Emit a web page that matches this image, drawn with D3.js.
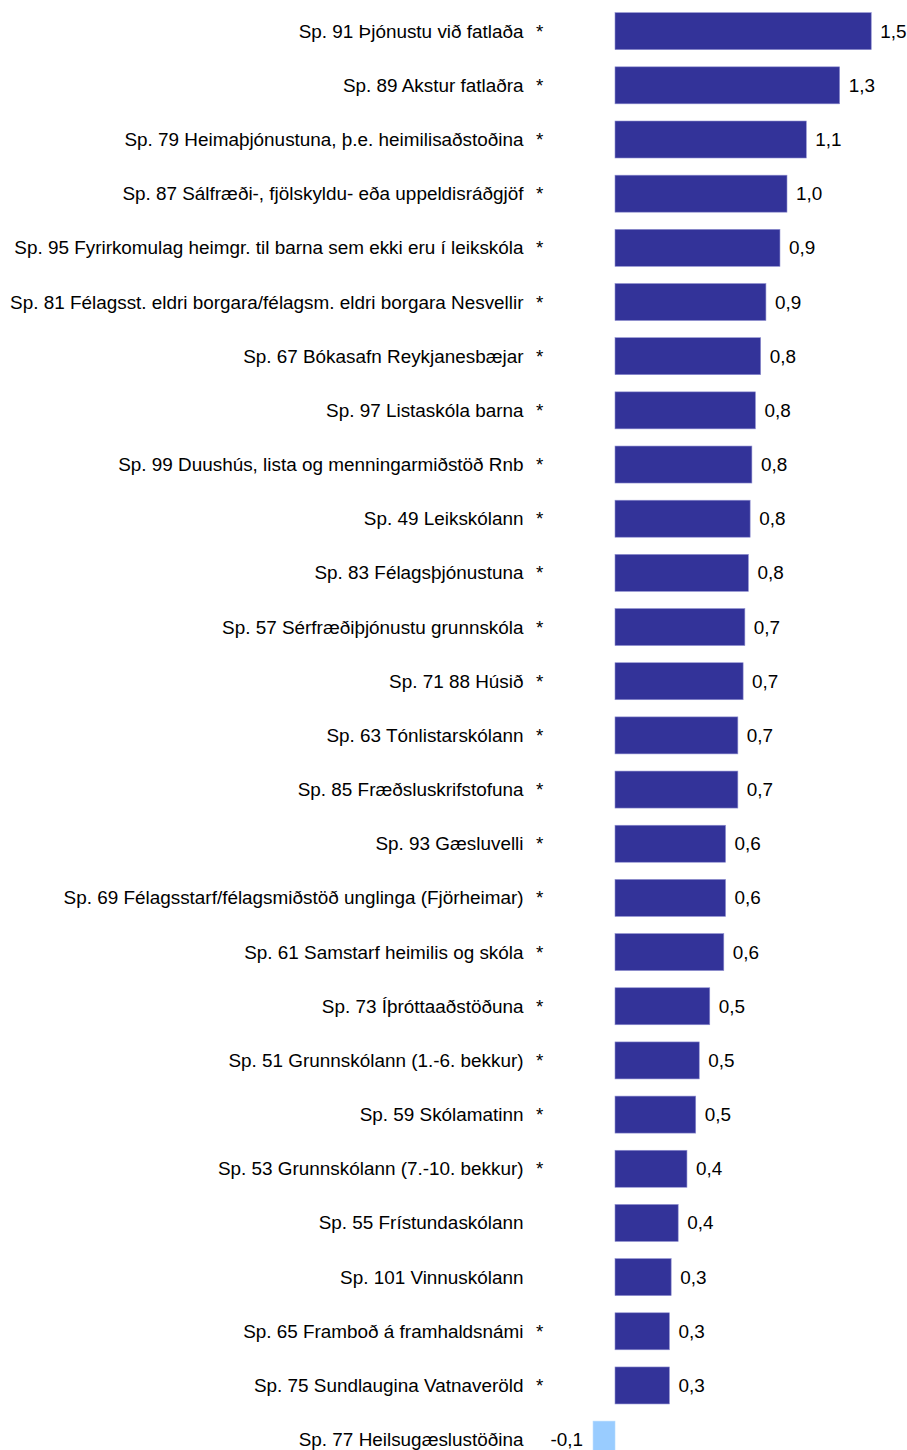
<!DOCTYPE html>
<html>
<head>
<meta charset="utf-8">
<script src="https://cdn.jsdelivr.net/npm/d3@7.9.0/dist/d3.min.js"></script>
<style>
  body { margin: 0; background: #fff; }
  svg { display: block; font-family: "Liberation Sans", Arial, sans-serif; }
</style>
</head>
<body>
<svg id="chart" width="907" height="1450"></svg>
<script>
// categories (top to bottom)
const categories = [
    'Sp. 91 Þjónustu við fatlaða',
    'Sp. 89 Akstur fatlaðra',
    'Sp. 79 Heimaþjónustuna, þ.e. heimilisaðstoðina',
    'Sp. 87 Sálfræði-, fjölskyldu- eða uppeldisráðgjöf',
    'Sp. 95 Fyrirkomulag heimgr. til barna sem ekki eru í leikskóla',
    'Sp. 81 Félagsst. eldri borgara/félagsm. eldri borgara Nesvellir',
    'Sp. 67 Bókasafn Reykjanesbæjar',
    'Sp. 97 Listaskóla barna',
    'Sp. 99 Duushús, lista og menningarmiðstöð Rnb',
    'Sp. 49 Leikskólann',
    'Sp. 83 Félagsþjónustuna',
    'Sp. 57 Sérfræðiþjónustu grunnskóla',
    'Sp. 71 88 Húsið',
    'Sp. 63 Tónlistarskólann',
    'Sp. 85 Fræðsluskrifstofuna',
    'Sp. 93 Gæsluvelli',
    'Sp. 69 Félagsstarf/félagsmiðstöð unglinga (Fjörheimar)',
    'Sp. 61 Samstarf heimilis og skóla',
    'Sp. 73 Íþróttaaðstöðuna',
    'Sp. 51 Grunnskólann (1.-6. bekkur)',
    'Sp. 59 Skólamatinn',
    'Sp. 53 Grunnskólann (7.-10. bekkur)',
    'Sp. 55 Frístundaskólann',
    'Sp. 101 Vinnuskólann',
    'Sp. 65 Framboð á framhaldsnámi',
    'Sp. 75 Sundlaugina Vatnaveröld',
    'Sp. 77 Heilsugæslustöðina'
];

// values
const values = [
    1.46, 1.28, 1.09, 0.98, 0.94, 0.86, 0.83, 0.80, 0.78, 0.77, 0.76,
    0.74, 0.73, 0.70, 0.70, 0.63, 0.63, 0.62, 0.54, 0.48, 0.46, 0.41,
    0.36, 0.32, 0.31, 0.31, -0.125
];

// significance marker
const starred = [
    true, true, true, true, true, true, true, true, true, true, true,
    true, true, true, true, true, true, true, true, true, true, true,
    false, false, true, true, false
];

const data = categories.map((c, i) => ({ label: c, value: values[i], star: starred[i] }));

const svg = d3.select('#chart');

let x = d3.scaleLinear().domain([0, 1]).range([615, 790.5]);
let y = d3.scaleBand()
    .domain(categories)
    .range([4.1, 4.1 + 27 * 54.17])
    .paddingInner(0.317)
    .paddingOuter(0.158);

const fmt = (v) => d3.format('.1f')(v).replace('.', ',').replace('−', '-');

// bars
svg.selectAll('rect.bar')
    .data(data)
    .join('rect')
    .attr('class', 'bar')
    .attr('x', (d) => x(Math.min(0, d.value)))
    .attr('y', (d) => y(d.label))
    .attr('width', (d) => Math.abs(x(d.value) - x(0)))
    .attr('height', y.bandwidth())
    .attr('fill', (d) => d.value < 0 ? '#99ccff' : '#333399')
    .attr('stroke', (d) => d.value < 0 ? '#b3d9ff' : '#8f8fd0')
    .attr('stroke-width', 0.6);

const mid = (d) => y(d.label) + y.bandwidth() / 2 + 6.5;

// category labels
svg.selectAll('text.cat')
    .data(data)
    .join('text')
    .attr('class', 'cat')
    .attr('x', 523.5)
    .attr('y', mid)
    .attr('text-anchor', 'end')
    .attr('font-size', '18.9px')
    .attr('fill', '#000')
    .text((d) => d.label);

// asterisks
svg.selectAll('text.star')
    .data(data.filter((d) => d.star))
    .join('text')
    .attr('class', 'star')
    .attr('x', 536)
    .attr('y', mid)
    .attr('font-size', '18.9px')
    .attr('fill', '#000')
    .text('*');

// value labels
svg.selectAll('text.val')
    .data(data)
    .join('text')
    .attr('class', 'val')
    .attr('x', (d) => d.value < 0 ? x(d.value) - 10 : x(d.value) + 9)
    .attr('y', mid)
    .attr('text-anchor', (d) => d.value < 0 ? 'end' : 'start')
    .attr('font-size', '18.9px')
    .attr('fill', '#000')
    .text((d) => fmt(d.value));
</script>
</body>
</html>
